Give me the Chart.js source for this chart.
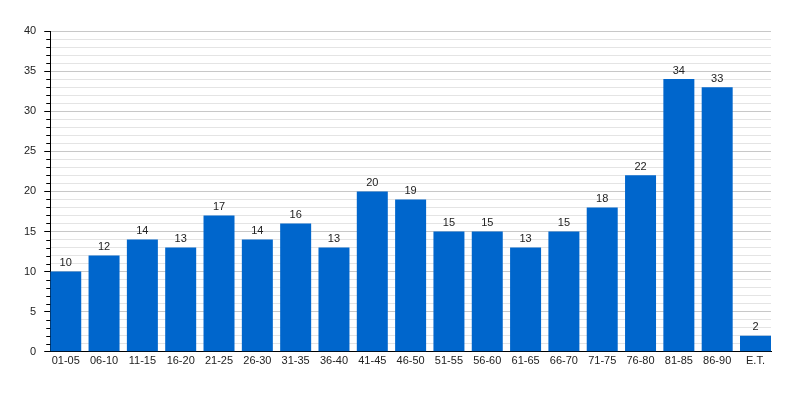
<!DOCTYPE html>
<html>
<head>
<meta charset="utf-8">
<script src="https://cdn.jsdelivr.net/npm/chart.js@4/dist/chart.umd.min.js"></script>
<style>
html,body{margin:0;padding:0;background:#fff;}
#wrap{width:800px;height:400px;}
</style>
</head>
<body>
<div id="wrap"><canvas id="c" width="800" height="400"></canvas></div>
<script>
const categories = ['01-05','06-10','11-15','16-20','21-25','26-30','31-35','36-40','41-45','46-50','51-55','56-60','61-65','66-70','71-75','76-80','81-85','86-90','E.T.'];
const values = [10,12,14,13,17,14,16,13,20,19,15,15,13,15,18,22,34,33,2];
const yMax = 40;
const yMajorStep = 5;

const FONT = "'Liberation Sans', Arial, sans-serif";

const valueLabels = {
  id: 'valueLabels',
  afterDatasetsDraw(chart) {
    const ctx = chart.ctx;
    const meta = chart.getDatasetMeta(0);
    ctx.save();
    ctx.font = '11px ' + FONT;
    ctx.fillStyle = '#222';
    ctx.textAlign = 'center';
    ctx.textBaseline = 'bottom';
    meta.data.forEach((bar, i) => {
      ctx.fillText(String(values[i]), bar.x, bar.y - 3);
    });
    ctx.restore();
  }
};

const minorTicks = {
  id: 'minorTicks',
  afterDraw(chart) {
    const y = chart.scales.y;
    const ctx = chart.ctx;
    ctx.save();
    ctx.strokeStyle = '#000';
    ctx.lineWidth = 1;
    ctx.beginPath();
    for (let v = 0; v <= yMax; v++) {
      if (v % yMajorStep === 0) continue;
      const py = Math.round(y.getPixelForValue(v)) + 0.5;
      ctx.moveTo(y.right - 4, py);
      ctx.lineTo(y.right, py);
    }
    ctx.stroke();
    ctx.restore();
  }
};

const half = 0.4044;

new Chart(document.getElementById('c'), {
  type: 'bar',
  data: {
    datasets: [{
      data: values.map((v, i) => ({x: i, y: v})),
      backgroundColor: '#0066cc',
      borderWidth: 0,
      barPercentage: 2 * half,
      categoryPercentage: 1
    }]
  },
  options: {
    responsive: false,
    animation: false,
    layout: {padding: {left: 16, right: 29, top: 31, bottom: 29}},
    plugins: {legend: {display: false}, tooltip: {enabled: false}},
    scales: {
      x: {
        type: 'linear',
        offset: false,
        min: -half,
        max: categories.length - 1 + half,
        afterBuildTicks: (axis) => { axis.ticks = categories.map((_, i) => ({value: i})); },
        grid: {display: false, drawTicks: false, offset: false},
        border: {display: true, color: '#000', width: 1},
        ticks: {
          autoSkip: false,
          maxRotation: 0,
          padding: 3,
          color: '#222',
          font: {family: FONT, size: 11},
          callback: (v) => categories[v]
        }
      },
      y: {
        min: 0,
        max: yMax,
        grid: {
          color: (c) => (c.tick && c.tick.value % yMajorStep === 0) ? '#c8c8c8' : '#e4e4e4',
          tickColor: (c) => (c.tick && c.tick.value % yMajorStep === 0) ? '#000' : 'rgba(0,0,0,0)',
          tickLength: 6
        },
        border: {display: true, color: '#000', width: 1},
        ticks: {
          stepSize: 1,
          autoSkip: false,
          padding: 8,
          color: '#222',
          font: {family: FONT, size: 11},
          callback: (v) => (v % yMajorStep === 0 ? String(v) : '')
        }
      }
    }
  },
  plugins: [valueLabels, minorTicks]
});
</script>
</body>
</html>
